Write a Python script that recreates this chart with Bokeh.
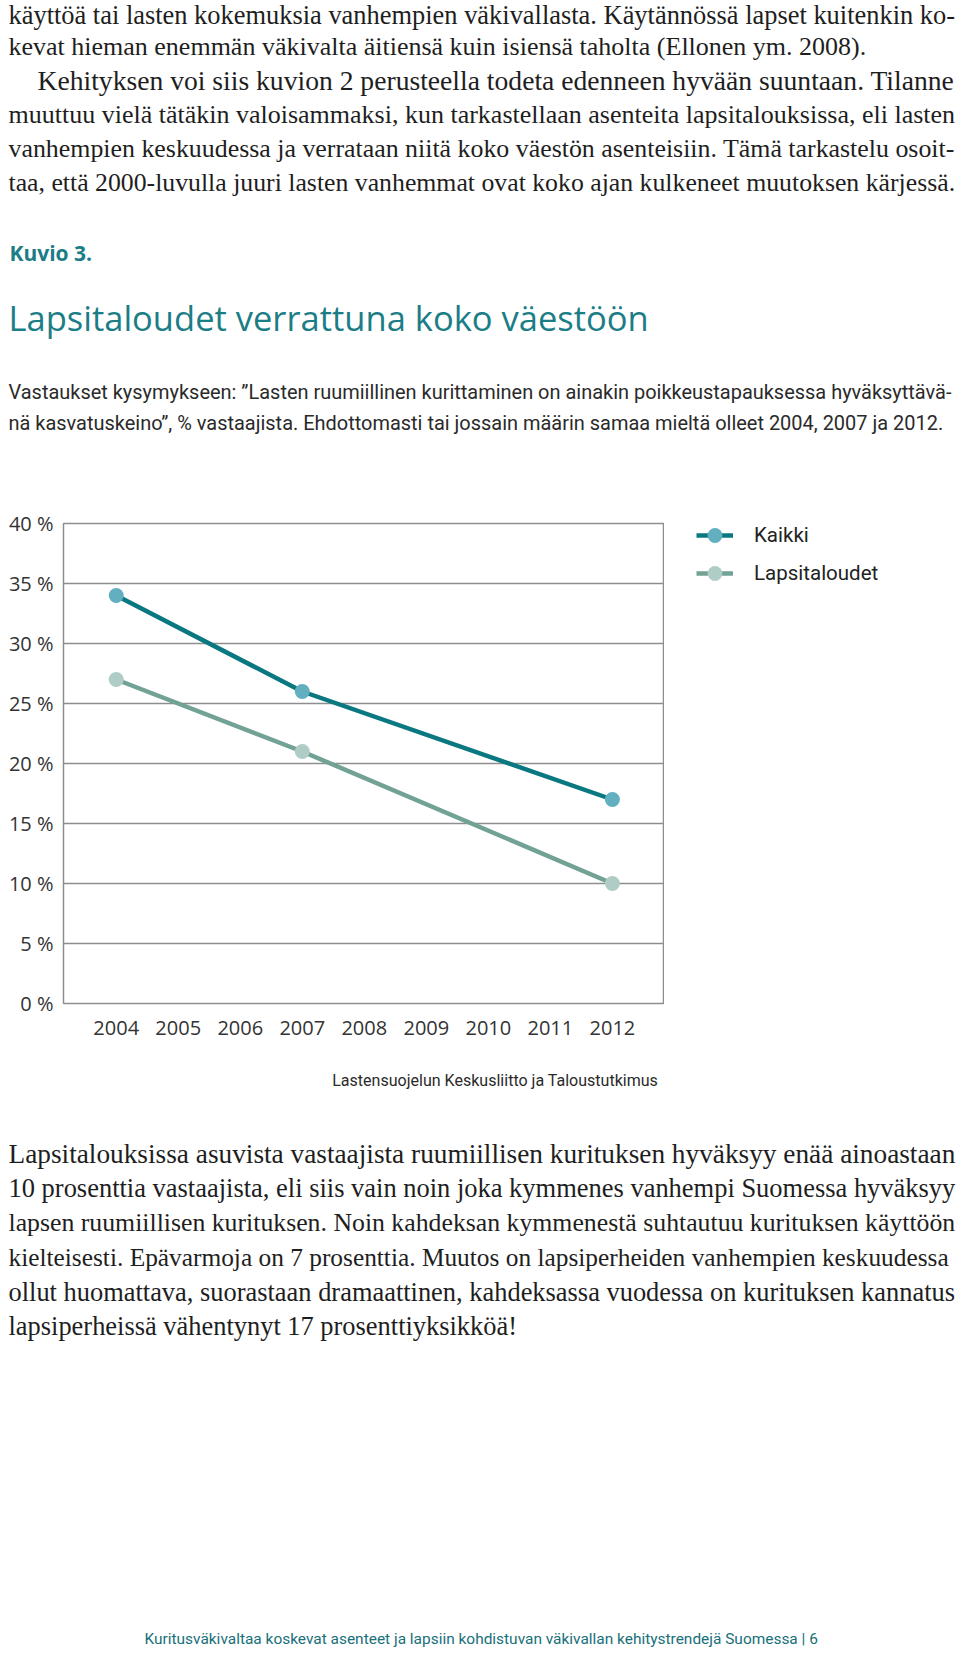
from bokeh.plotting import figure
from bokeh.models import Range1d, FixedTicker, Legend, LegendItem, ColumnDataSource
from bokeh.layouts import column, row
from bokeh.core.properties import value, field
from bokeh.embed import file_html
from bokeh.resources import INLINE

# ---------------- data ----------------
years = [2004, 2007, 2012]
kaikki = [34, 26, 17]
lapsitaloudet = [27, 21, 10]
series_names = ["Kaikki", "Lapsitaloudet"]

x_ticks = [2004, 2005, 2006, 2007, 2008, 2009, 2010, 2011, 2012]
x_tick_labels = ["2004", "2005", "2006", "2007", "2008", "2009", "2010", "2011", "2012"]
y_ticks = [0, 5, 10, 15, 20, 25, 30, 35, 40]
y_tick_labels = ["0 %", "5 %", "10 %", "15 %", "20 %", "25 %", "30 %", "35 %", "40 %"]

intro_lines = [
    "käyttöä tai lasten kokemuksia vanhempien väkivallasta. Käytännössä lapset kuitenkin ko-",
    "kevat hieman enemmän väkivalta äitiensä kuin isiensä taholta (Ellonen ym. 2008).",
    "Kehityksen voi siis kuvion 2 perusteella todeta edenneen hyvään suuntaan. Tilanne",
    "muuttuu vielä tätäkin valoisammaksi, kun tarkastellaan asenteita lapsitalouksissa, eli lasten",
    "vanhempien keskuudessa ja verrataan niitä koko väestön asenteisiin. Tämä tarkastelu osoit-",
    "taa, että 2000-luvulla juuri lasten vanhemmat ovat koko ajan kulkeneet muutoksen kärjessä.",
]
intro_justify = [True, False, True, True, True, True]
intro_indent = [0, 0, 29, 0, 0, 0]

figure_label = "Kuvio 3."
chart_title = "Lapsitaloudet verrattuna koko väestöön"
subtitle_lines = [
    "Vastaukset kysymykseen: ”Lasten ruumiillinen kurittaminen on ainakin poikkeustapauksessa hyväksyttävä-",
    "nä kasvatuskeino”, % vastaajista. Ehdottomasti tai jossain määrin samaa mieltä olleet 2004, 2007 ja 2012.",
]
source_text = "Lastensuojelun Keskusliitto ja Taloustutkimus"

outro_lines = [
    "Lapsitalouksissa asuvista vastaajista ruumiillisen kurituksen hyväksyy enää ainoastaan",
    "10 prosenttia vastaajista, eli siis vain noin joka kymmenes vanhempi Suomessa hyväksyy",
    "lapsen ruumiillisen kurituksen. Noin kahdeksan kymmenestä suhtautuu kurituksen käyttöön",
    "kielteisesti. Epävarmoja on 7 prosenttia.  Muutos on lapsiperheiden vanhempien keskuudessa",
    "ollut huomattava, suorastaan dramaattinen, kahdeksassa vuodessa on kurituksen kannatus",
    "lapsiperheissä vähentynyt 17 prosenttiyksikköä!",
]
outro_justify = [True, True, True, True, True, False]
footer_text = "Kuritusväkivaltaa koskevat asenteet ja lapsiin kohdistuvan väkivallan kehitystrendejä Suomessa  |  6"

# ---------------- styles ----------------
TEAL_DARK = "#0a7880"
TEAL_DOT = "#62afc0"
GREEN_LINE = "#72a295"
GREEN_DOT = "#afcdc6"
TITLE_TEAL = "#1b7d86"
GRID = "#8e8e8e"
SERIF = "Liberation Serif"
COND = "Roboto"
COND_SCALE = 1.0
SANS = "Open Sans"

PAGE_W = 960
LEFT = 8
RIGHT_EDGE = 955
CHART_W = 664


def _table(upper, lower, upper_w, lower_w, extra):
    t = dict(zip(upper, upper_w))
    t.update(dict(zip(lower, lower_w)))
    t.update(extra)
    return t

UP = "ABCDEFGHIJKLMNOPQRSTUVWXYZ"
LO = "abcdefghijklmnopqrstuvwxyz"
TNR = _table(UP, LO,
             [722, 667, 667, 722, 611, 556, 722, 722, 333, 389, 722, 611, 889, 722, 722, 556, 722, 667, 556, 611, 722, 722, 944, 722, 722, 611],
             [444, 500, 444, 500, 444, 333, 500, 500, 278, 278, 500, 278, 778, 500, 500, 500, 500, 333, 389, 278, 500, 500, 722, 500, 500, 444],
             {" ": 250, "!": 333, "(": 333, ")": 333, ",": 250, "-": 333, ".": 250, ":": 278,
              "ä": 444, "ö": 500, "Ä": 722, "Ö": 722, **{d: 500 for d in "0123456789"}})
ARIAL = _table(UP, LO,
               [667, 667, 722, 722, 667, 611, 778, 722, 278, 500, 667, 556, 833, 722, 778, 667, 778, 722, 667, 611, 722, 667, 944, 667, 667, 611],
               [556, 556, 500, 556, 556, 278, 556, 556, 222, 222, 500, 222, 833, 556, 556, 556, 556, 333, 500, 278, 556, 500, 722, 500, 500, 500],
               {" ": 278, "”": 333, "%": 889, ",": 278, ".": 278, "-": 333, ":": 278, "|": 260,
                "ä": 556, "ö": 556, **{d: 556 for d in "0123456789"}})


def em(s, table, scale=1.0):
    return sum(table.get(c, 500) for c in s) / 1000.0 * scale


def block_sizes(lines, starts, justify, table, scale=1.0, tol=0.09):
    raw = [(RIGHT_EDGE - x) / em(s, table, scale) for s, x in zip(lines, starts)]
    js = sorted(r for r, j in zip(raw, justify) if j)
    m = js[len(js) // 2]
    out = []
    for r, j in zip(raw, justify):
        out.append(min(max(r, m * (1 - tol)), m * (1 + tol)) if j else m)
    return ["%.2fpx" % v for v in out]


def blank_fig(width, height, xr, yr):
    p = figure(width=width, height=height, x_range=xr, y_range=yr,
               x_axis_type=None, y_axis_type=None, output_backend="svg",
               toolbar_location=None, min_border=0, frame_align=False)
    p.outline_line_color = None
    p.grid.visible = False
    p.background_fill_color = "white"
    return p


def text_fig(y_top, y_bot):
    return blank_fig(PAGE_W, y_bot - y_top, Range1d(0, PAGE_W), Range1d(y_bot, y_top))


def put(p, xs, ys, texts, font, sizes, color, style="normal"):
    src = ColumnDataSource(dict(x=xs, y=ys, t=texts, fs=sizes))
    p.text(x="x", y="y", text="t", source=src, text_font=value(font),
           text_font_size=field("fs"), text_color=color, text_font_style=style,
           text_baseline="middle", text_align="left")

# ---------------- top text ----------------
top = text_fig(0, 470)
intro_x = [LEFT + i for i in intro_indent]
intro_y = [11.5 + 34.1 * i for i in range(len(intro_lines))]
intro_y[0] = 14.5
put(top, intro_x, intro_y, intro_lines, SERIF,
    block_sizes(intro_lines, intro_x, intro_justify, TNR), "#1e1e1e")
put(top, [LEFT + 1], [252.5], [figure_label], SANS, ["21px"], TITLE_TEAL, "bold")
put(top, [LEFT], [317], [chart_title], SANS, ["34.5px"], TITLE_TEAL)
sub_fs = min((957 - LEFT) / em(subtitle_lines[0], ARIAL, COND_SCALE),
             (946 - LEFT) / em(subtitle_lines[1], ARIAL, COND_SCALE))
put(top, [LEFT, LEFT], [391, 422.5], subtitle_lines, COND,
    ["%.2fpx" % sub_fs] * 2, "#2a2a2a")

# ---------------- chart ----------------
chart = figure(width=CHART_W, height=590,
               x_range=Range1d(2003.15, 2012.84), y_range=Range1d(0, 40),
               output_backend="svg", toolbar_location=None, frame_align=False,
               min_border_left=63, min_border_right=0,
               min_border_top=53, min_border_bottom=57)
chart.outline_line_color = GRID
chart.outline_line_width = 1.5
chart.xgrid.grid_line_color = None
chart.ygrid.ticker = FixedTicker(ticks=y_ticks)
chart.ygrid.grid_line_color = GRID
chart.ygrid.grid_line_width = 1.5

for ax, ticks, labels, standoff in ((chart.xaxis[0], x_ticks, x_tick_labels, 17),
                                    (chart.yaxis[0], y_ticks, y_tick_labels, 10)):
    ax.ticker = FixedTicker(ticks=ticks)
    ax.major_label_overrides = {t: l for t, l in zip(ticks, labels)}
    ax.axis_line_color = None
    ax.major_tick_line_color = None
    ax.minor_tick_line_color = None
    ax.major_tick_out = 0
    ax.major_tick_in = 0
    ax.minor_tick_out = 0
    ax.major_label_standoff = standoff
    ax.major_label_text_font = SANS
    ax.major_label_text_font_size = "20px"
    ax.major_label_text_color = "#333333"

chart.line(years, lapsitaloudet, line_width=4.5, line_color=GREEN_LINE)
chart.scatter(years, lapsitaloudet, size=15, fill_color=GREEN_DOT, line_color=None)
chart.line(years, kaikki, line_width=4.5, line_color=TEAL_DARK)
chart.scatter(years, kaikki, size=15, fill_color=TEAL_DOT, line_color=None)

# legend lives in its own blank panel to the right of the chart frame;
# its proxy renderers hold the same series but fall outside that panel's ranges
leg = blank_fig(PAGE_W - CHART_W, 590, Range1d(0, 1), Range1d(0, 1))
lk_line = leg.line(years, kaikki, line_width=4.5, line_color=TEAL_DARK)
lk_pts = leg.scatter(years, kaikki, size=15, fill_color=TEAL_DOT, line_color=None)
ll_line = leg.line(years, lapsitaloudet, line_width=4.5, line_color=GREEN_LINE)
ll_pts = leg.scatter(years, lapsitaloudet, size=15, fill_color=GREEN_DOT, line_color=None)
legend = Legend(items=[LegendItem(label=series_names[0], renderers=[lk_line, lk_pts]),
                       LegendItem(label=series_names[1], renderers=[ll_line, ll_pts])],
                location=(32, 468), padding=0, margin=0, spacing=0,
                glyph_width=37, glyph_height=38, label_height=38, label_standoff=21,
                label_text_font=COND, label_text_font_size="20.5px",
                label_text_color="#222222", border_line_color=None,
                background_fill_alpha=0)
leg.add_layout(legend)

# ---------------- bottom text ----------------
bottom = text_fig(1060, 1653)
src_size = "%.2fpx" % (323 / em(source_text, ARIAL, COND_SCALE))
put(bottom, [331.7], [1080], [source_text], COND, [src_size], "#2a2a2a")
outro_x = [LEFT] * len(outro_lines)
outro_y = [1153 + 34.5 * i for i in range(len(outro_lines))]
put(bottom, outro_x, outro_y, outro_lines, SERIF,
    block_sizes(outro_lines, outro_x, outro_justify, TNR), "#1e1e1e")
foot_size = "%.2fpx" % (684 / em(footer_text, ARIAL, COND_SCALE))
put(bottom, [144], [1638.5], [footer_text], COND, [foot_size], "#17707a")

page = column(top, row(chart, leg, spacing=0), bottom, spacing=0)
open("out.html", "w").write(file_html(page, INLINE))
